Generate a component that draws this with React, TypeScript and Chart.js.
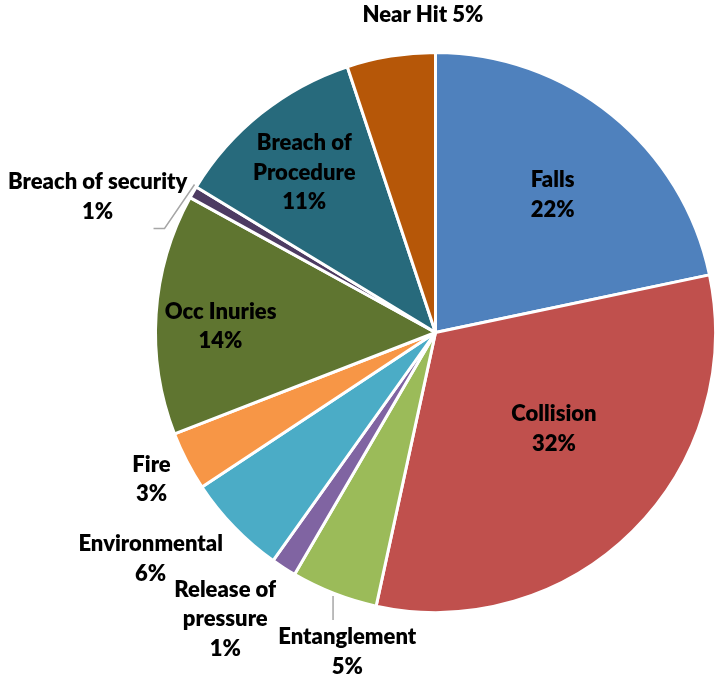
import { useEffect, useRef } from "react";
import { Chart, registerables } from "chart.js";

Chart.register(...registerables);

const categories = [
  "Falls",
  "Collision",
  "Entanglement",
  "Release of pressure",
  "Environmental",
  "Fire",
  "Occ Inuries",
  "Breach of security",
  "Breach of Procedure",
  "Near Hit",
];
const shares = [21.7, 31.7, 5.0, 1.45, 5.85, 3.4, 13.9, 0.7, 11.2, 5.1];
const sliceColors = [
  "#4F81BD",
  "#C0504D",
  "#9BBB59",
  "#8064A2",
  "#4BACC6",
  "#F79646",
  "#5F7530",
  "#4D3B62",
  "#276A7C",
  "#B65708",
];
const labelLines = [
  ["Falls"],
  ["Collision"],
  ["Entanglement"],
  ["Release of", "pressure"],
  ["Environmental"],
  ["Fire"],
  ["Occ Inuries"],
  ["Breach of security"],
  ["Breach of", "Procedure"],
  ["Near Hit"],
];

// label placement: radius factor, angle offset from slice middle (deg)
type Layout = {
  r: number;
  da: number;
  inline?: boolean;
  leader?: { da: number; r: number; moves: number[][] };
};
const labelLayout: Layout[] = [
  { r: 0.646, da: 1.3 },
  { r: 0.546, da: -6 },
  { r: 1.184, da: -5.8, leader: { da: 0, r: 1.01, moves: [[0, 24]] } },
  { r: 1.27, da: 3.4 },
  { r: 1.3, da: 5.5 },
  { r: 1.142, da: 0 },
  { r: 0.768, da: -2.2 },
  { r: 1.3, da: -8.2, leader: { da: 1.5, r: 1.01, moves: [[-30, 44], [-11, 0]] } },
  { r: 0.738, da: -0.9 },
  { r: 1.134, da: 6.9, inline: true },
];

const FONT = "800 22px Lato";
const LINE_H = 29.5;

const labelPlugin = {
  id: "sliceLabels",
  afterDatasetsDraw(chart: any) {
    const ctx = chart.ctx as CanvasRenderingContext2D;
    const meta = chart.getDatasetMeta(0);
    const total = shares.reduce((a, b) => a + b, 0);
    meta.data.forEach((arc: any, i: number) => {
      const p = arc.getProps(["x", "y", "startAngle", "endAngle", "outerRadius"], true);
      const mid = (p.startAngle + p.endAngle) / 2;
      const L = labelLayout[i];
      const a = mid + (L.da * Math.PI) / 180;
      const cx = p.x + Math.cos(a) * p.outerRadius * L.r;
      const cy = p.y + Math.sin(a) * p.outerRadius * L.r;
      const pct = Math.round((shares[i] / total) * 100) + "%";
      const lines = L.inline ? [labelLines[i].join(" ") + " " + pct] : [...labelLines[i], pct];
      ctx.save();
      if (L.leader) {
        const la = mid + (L.leader.da * Math.PI) / 180;
        let lx = p.x + Math.cos(la) * p.outerRadius * L.leader.r;
        let ly = p.y + Math.sin(la) * p.outerRadius * L.leader.r;
        ctx.strokeStyle = "#A6A6A6";
        ctx.lineWidth = 1.5;
        ctx.beginPath();
        ctx.moveTo(lx, ly);
        L.leader.moves.forEach(([dx, dy]) => {
          lx += dx;
          ly += dy;
          ctx.lineTo(lx, ly);
        });
        ctx.stroke();
      }
      ctx.font = FONT;
      ctx.fillStyle = "#000000";
      ctx.textAlign = "center";
      ctx.textBaseline = "middle";
      lines.forEach((t, k) => {
        ctx.fillText(t, cx, cy + (k - (lines.length - 1) / 2) * LINE_H);
      });
      ctx.restore();
    });
  },
};

export default function App() {
  const ref = useRef<HTMLCanvasElement>(null);
  useEffect(() => {
    if (!ref.current) return;
    const chart = new Chart(ref.current, {
      type: "pie",
      data: {
        labels: categories,
        datasets: [
          {
            data: shares,
            backgroundColor: sliceColors,
            borderColor: "#FFFFFF",
            borderWidth: 3,
          },
        ],
      },
      options: {
        animation: false,
        responsive: false,
        layout: { padding: { left: 154, right: 0, top: 51, bottom: 61 } },
        plugins: {
          legend: { display: false },
          tooltip: { enabled: false },
        },
      },
      plugins: [labelPlugin],
    });
    return () => chart.destroy();
  }, []);
  return (
    <div style={{ position: "fixed", left: 0, top: 0, width: 717, height: 675, background: "#fff" }}>
      <canvas ref={ref} width={717} height={675} />
    </div>
  );
}
